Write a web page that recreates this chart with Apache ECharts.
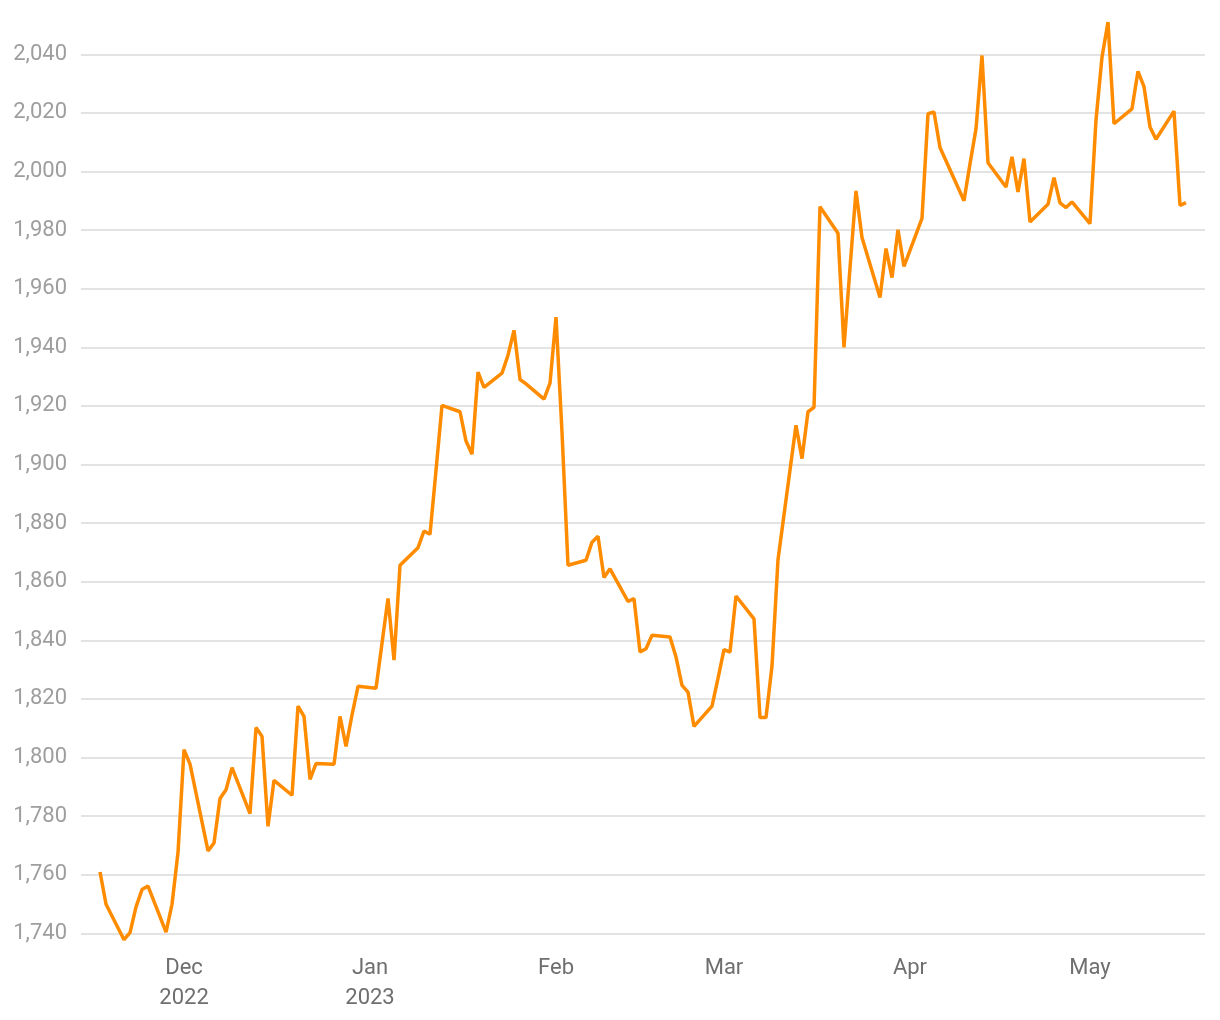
<!DOCTYPE html>
<html>
<head>
<meta charset="utf-8">
<script src="https://cdn.jsdelivr.net/npm/echarts@6/dist/echarts.min.js"></script>
<style>
  html, body { margin: 0; padding: 0; background: #ffffff; }
  #chart { width: 1220px; height: 1020px; }
</style>
</head>
<body>
<div id="chart"></div>
<script>
// ---- Data ----
const dates = [
  "2022-11-17","2022-11-18","2022-11-21","2022-11-22","2022-11-23","2022-11-24","2022-11-25",
  "2022-11-28","2022-11-29","2022-11-30","2022-12-01","2022-12-02",
  "2022-12-05","2022-12-06","2022-12-07","2022-12-08","2022-12-09",
  "2022-12-12","2022-12-13","2022-12-14","2022-12-15","2022-12-16",
  "2022-12-19","2022-12-20","2022-12-21","2022-12-22","2022-12-23",
  "2022-12-26","2022-12-27","2022-12-28","2022-12-29","2022-12-30",
  "2023-01-02","2023-01-03","2023-01-04","2023-01-05","2023-01-06",
  "2023-01-09","2023-01-10","2023-01-11","2023-01-12","2023-01-13",
  "2023-01-16","2023-01-17","2023-01-18","2023-01-19","2023-01-20",
  "2023-01-23","2023-01-24","2023-01-25","2023-01-26","2023-01-27",
  "2023-01-30","2023-01-31","2023-02-01","2023-02-02","2023-02-03",
  "2023-02-06","2023-02-07","2023-02-08","2023-02-09","2023-02-10",
  "2023-02-13","2023-02-14","2023-02-15","2023-02-16","2023-02-17",
  "2023-02-20","2023-02-21","2023-02-22","2023-02-23","2023-02-24",
  "2023-02-27","2023-02-28","2023-03-01","2023-03-02","2023-03-03",
  "2023-03-06","2023-03-07","2023-03-08","2023-03-09","2023-03-10",
  "2023-03-13","2023-03-14","2023-03-15","2023-03-16","2023-03-17",
  "2023-03-20","2023-03-21","2023-03-22","2023-03-23","2023-03-24",
  "2023-03-27","2023-03-28","2023-03-29","2023-03-30","2023-03-31",
  "2023-04-03","2023-04-04","2023-04-05","2023-04-06",
  "2023-04-10","2023-04-11","2023-04-12","2023-04-13","2023-04-14",
  "2023-04-17","2023-04-18","2023-04-19","2023-04-20","2023-04-21",
  "2023-04-24","2023-04-25","2023-04-26","2023-04-27","2023-04-28",
  "2023-05-01","2023-05-02","2023-05-03","2023-05-04","2023-05-05",
  "2023-05-08","2023-05-09","2023-05-10","2023-05-11","2023-05-12",
  "2023-05-15","2023-05-16","2023-05-17"
];
const prices = [
  1760.9,1749.9,1737.8,1740.2,1749.0,1754.9,1756.1,
  1740.4,1749.9,1767.7,1802.7,1797.7,
  1768.1,1770.8,1786.0,1789.0,1796.5,
  1780.8,1810.2,1807.2,1776.5,1792.2,
  1787.1,1817.5,1814.0,1792.5,1797.9,
  1797.7,1814.0,1803.8,1814.5,1824.3,
  1823.6,1839.0,1854.3,1833.2,1865.6,
  1871.6,1877.3,1876.2,1898.0,1920.2,
  1918.0,1908.0,1903.5,1931.5,1926.3,
  1931.2,1937.3,1945.8,1929.0,1927.5,
  1922.3,1927.8,1950.3,1911.0,1865.6,
  1867.3,1873.5,1875.5,1861.4,1864.4,
  1853.3,1854.2,1836.0,1837.1,1841.7,
  1841.1,1834.3,1824.6,1822.3,1810.6,
  1817.5,1827.0,1836.8,1836.0,1855.1,
  1847.3,1813.6,1813.6,1831.2,1867.5,
  1913.4,1902.0,1918.0,1919.5,1988.0,
  1978.9,1940.0,1967.0,1993.4,1977.5,
  1957.0,1973.7,1963.8,1980.1,1967.6,
  1984.0,2019.7,2020.3,2008.2,
  1990.0,2002.6,2014.5,2039.6,2003.0,
  1994.7,2005.0,1993.0,2004.4,1982.8,
  1988.8,1997.9,1989.3,1987.7,1989.6,
  1982.2,2017.5,2039.0,2051.0,2016.3,
  2021.4,2034.2,2029.0,2015.2,2011.0,
  2020.6,1988.4,1989.4
];
const monthNames = ["Jan","Feb","Mar","Apr","May","Jun","Jul","Aug","Sep","Oct","Nov","Dec"];

// ---- Build series ----
function toUTC(s) {
  const p = s.split("-").map(Number);
  return Date.UTC(p[0], p[1] - 1, p[2]);
}
const DAY = 86400000;
const seriesData = dates.map((d, i) => [toUTC(d), prices[i]]);
const xMin = seriesData[0][0] - 3.17 * DAY;
const xMax = seriesData[seriesData.length - 1][0] + 3.17 * DAY;

const chart = echarts.init(document.getElementById("chart"), null, { renderer: "canvas" });
chart.setOption({
  useUTC: true,
  animation: false,
  backgroundColor: "#ffffff",
  textStyle: { fontFamily: "Roboto" },
  grid: { left: 81, right: 15, top: 22.1, bottom: 80.3, containLabel: false },
  xAxis: {
    type: "time",
    min: xMin,
    max: xMax,
    splitNumber: 6,
    axisLine: { show: false },
    axisTick: { show: false },
    splitLine: { show: false },
    axisLabel: {
      show: true,
      margin: 14,
      fontFamily: "Roboto",
      fontSize: 22,
      lineHeight: 30,
      color: "#6f6f6f",
      hideOverlap: false,
      showMinLabel: false,
      showMaxLabel: false,
      formatter: function (val) {
        const d = new Date(val);
        if (d.getUTCDate() !== 1 || d.getUTCHours() !== 0) return "";
        const m = d.getUTCMonth();
        const name = monthNames[m];
        if (m === 11 || m === 0) return name + "\n" + d.getUTCFullYear();
        return name;
      }
    }
  },
  yAxis: {
    type: "value",
    min: "dataMin",
    max: "dataMax",
    splitNumber: 15,
    axisLine: { show: false },
    axisTick: { show: false },
    axisLabel: {
      margin: 14,
      fontFamily: "Roboto",
      fontSize: 22,
      color: "#9e9e9e",
      padding: [7, 0, 0, 0],
      showMinLabel: false,
      showMaxLabel: false,
      formatter: function (v) {
        if (v % 20 !== 0) return "";
        return v.toLocaleString("en-US");
      }
    },
    splitLine: {
      show: true,
      showMinLine: false,
      showMaxLine: false,
      lineStyle: { color: "#e3e3e3", width: 2 }
    }
  },
  series: [{
    type: "line",
    data: seriesData,
    showSymbol: false,
    symbol: "none",
    lineStyle: { color: "#FF8C00", width: 3.5 },
    itemStyle: { color: "#FF8C00" }
  }]
});
</script>
</body>
</html>
